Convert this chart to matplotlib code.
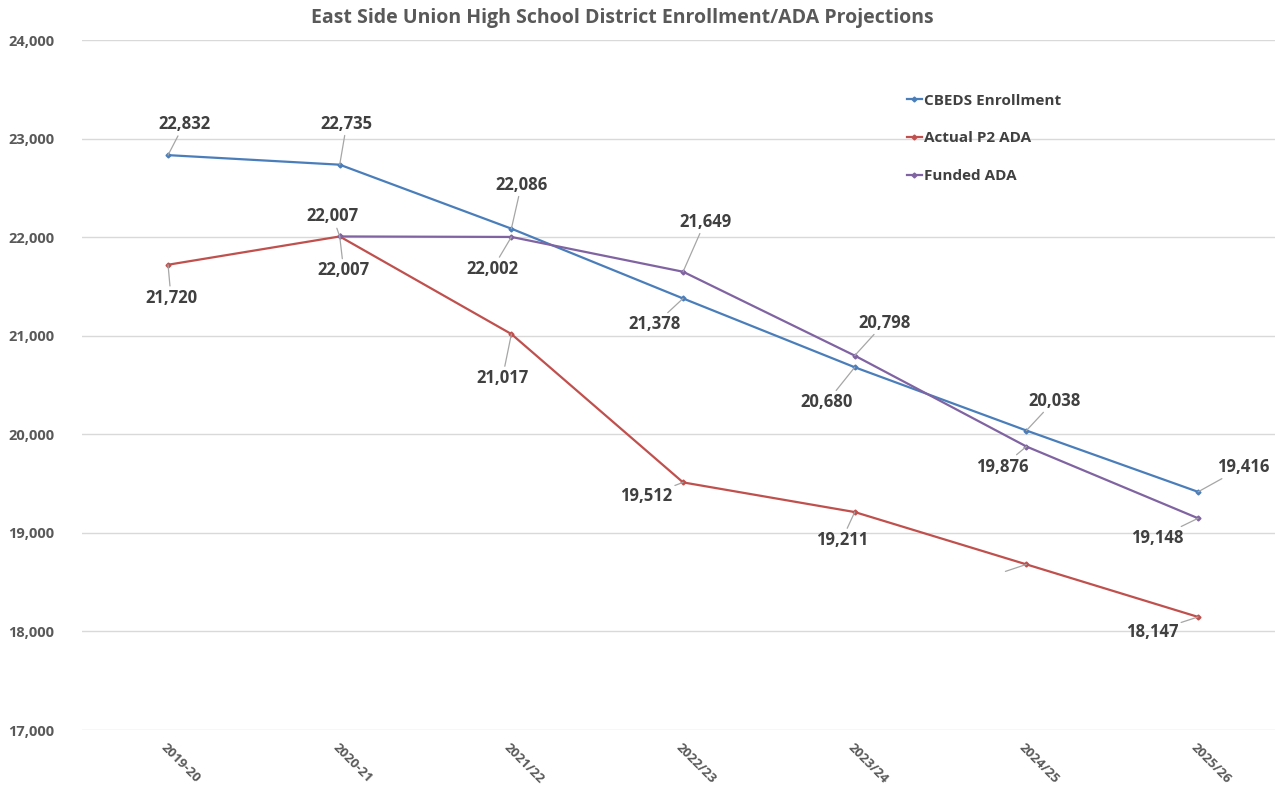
import numpy as np
import matplotlib
matplotlib.use("Agg")
import matplotlib.pyplot as plt
from matplotlib.transforms import ScaledTranslation

categories = ["2019-20", "2020-21", "2021/22", "2022/23", "2023/24", "2024/25", "2025/26"]
cbeds = [22832, 22735, 22086, 21378, 20680, 20038, 19416]
actual_p2 = [21720, 22007, 21017, 19512, 19211, 18680, 18147]
funded = [np.nan, 22007, 22002, 21649, 20798, 19876, 19148]
actual_p2_labels = ["21,720", "22,007", "21,017", "19,512", "19,211", "", "18,147"]

plt.rcParams['font.family'] = ['Open Sans', 'DejaVu Sans']
TXT = '#404040'
fig = plt.figure(figsize=(12.75, 7.89), dpi=100)
left = 82.2
ax = fig.add_axes([left/1275, 1-730/789, 1-left/1275, (730-40)/789])

x = np.arange(len(categories))
c_blue, c_red, c_purple = '#4A7EBB', '#C0504D', '#8064A2'
ax.plot(x, cbeds, color=c_blue, lw=1.6, marker='D', ms=2.5, label='CBEDS Enrollment')
ax.plot(x, actual_p2, color=c_red, lw=1.6, marker='D', ms=2.5, label='Actual P2 ADA')
ax.plot(x, funded, color=c_purple, lw=1.6, marker='D', ms=2.5, label='Funded ADA')

ax.set_xlim(-0.5, 6.448)
ax.set_ylim(17000, 24000)
ax.set_yticks(np.arange(17000, 24001, 1000))
ax.set_yticklabels([f"{v:,}" for v in range(17000, 24001, 1000)])
ax.set_xticks(x)
ax.set_xticklabels(categories, rotation=-45, ha='left', va='center', rotation_mode='anchor')
ax.tick_params(axis='y', length=0, colors='#595959', labelsize=10.5, pad=20)
ax.tick_params(axis='x', length=0, colors='#595959', labelsize=9.5, pad=8)
for lab in ax.get_xticklabels() + ax.get_yticklabels():
    lab.set_fontweight('bold')
shift = ScaledTranslation(-5/100, -4/100, fig.dpi_scale_trans)
for lab in ax.get_xticklabels():
    lab.set_transform(lab.get_transform() + shift)
ax.grid(axis='y', color='#D9D9D9', lw=1)
for s in ax.spines.values():
    s.set_visible(False)

# label offsets in pixels (dx, dy) from the point
cb_off = [(16, 31), (7, 41), (10, 44), (-28, -26), (-28, -35), (28, 30), (45, 25)]
ap_off = [(3, -33), (-7, 20), (-9, -44), (-37, -14), (-13, -28), (-21, -7), (-46, -15)]
fu_off = [None, (4, -34), (-19, -32), (22, 50), (30, 33), (-24, -20), (-41, -20)]

def label_series(vals, texts, offs):
    for i, (v, t, o) in enumerate(zip(vals, texts, offs)):
        if o is None or np.isnan(v):
            continue
        ax.annotate(t, xy=(i, v), xytext=o, textcoords='offset pixels',
                    ha='center', va='center', fontsize=12, fontweight='bold', color=TXT,
                    arrowprops=dict(arrowstyle='-', color='#A6A6A6', lw=0.9,
                                    shrinkA=0, shrinkB=0))

label_series(cbeds, [f"{v:,}" for v in cbeds], cb_off)
label_series(actual_p2, actual_p2_labels, ap_off)
label_series(funded, ["" if np.isnan(v) else f"{int(v):,}" for v in funded], fu_off)

leg = ax.legend(loc='upper left', bbox_to_anchor=((893-left)/(1275-left), (730-80)/690), frameon=False,
                handlelength=1.0, handletextpad=0.1, labelspacing=1.55, fontsize=11)
for t in leg.get_texts():
    t.set_color(TXT)
    t.set_fontweight('bold')

fig.text(622/1275, 1-18/789, "East Side Union High School District Enrollment/ADA Projections",
         ha='center', va='center', fontsize=14, fontweight='bold', color='#595959')

fig.savefig('out.png', dpi=100)
